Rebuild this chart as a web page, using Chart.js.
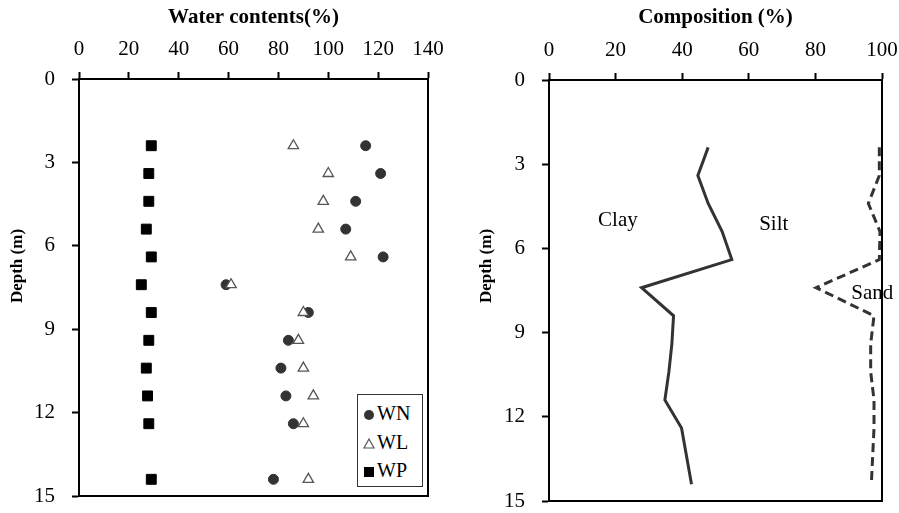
<!DOCTYPE html>
<html>
<head>
<meta charset="utf-8">
<script src="https://cdn.jsdelivr.net/npm/chart.js@4.4.1/dist/chart.umd.min.js"></script>
<style>
    body { margin: 0; background: #fff; }
    #wrap { position: relative; width: 899px; height: 513px; overflow: hidden; font-family: 'Liberation Serif', 'Times New Roman', serif; }
    #left { position: absolute; left: 0; top: 0; }
    #right { position: absolute; left: 450px; top: 0; }
    .legend { position: absolute; left: 357px; top: 394px; width: 64px; height: 91px; border: 1px solid #333; background: #fff; }
    .legend div { position: absolute; left: 5px; height: 20px; line-height: 20px; font-size: 20px; color: #000; white-space: nowrap; }
    .legend svg { vertical-align: -1px; margin-right: 2px; }
</style>
</head>
<body>
<div id="wrap">
    <canvas id="left" width="450" height="513"></canvas>
    <canvas id="right" width="449" height="513"></canvas>
    <div class="legend">
        <div style="top:8px"><svg width="12" height="12"><circle cx="6" cy="6" r="5" fill="#333"/></svg>WN</div>
        <div style="top:37px"><svg width="12" height="12"><polygon points="6,1 11,10 1,10" fill="#fff" stroke="#555" stroke-width="1.2"/></svg>WL</div>
        <div style="top:65px"><svg width="12" height="12"><rect x="1" y="1" width="10" height="10" fill="#000"/></svg>WP</div>
    </div>
</div>
<script>
// depth (m) of each sample
const depths = [2.4, 3.4, 4.4, 5.4, 6.4, 7.4, 8.4, 9.4, 10.4, 11.4, 12.4, 14.4];

// water contents (%)
const wn = [115, 121, 111, 107, 122, 59, 92, 84, 81, 83, 86, 78];
const wl = [86, 100, 98, 96, 109, 61, 90, 88, 90, 94, 90, 92];
const wp = [29, 28, 28, 27, 29, 25, 29, 28, 27, 27.5, 28, 29];

// composition (%): clay line and clay+silt line (rest is sand)
const clay = [47.8, 44.7, 47.8, 52.0, 54.9, 27.8, 37.4, 36.9, 36.0, 34.8, 39.8, 42.8];
const claySilt = [99.2, 99.2, 95.9, 99.4, 99.2, 80.2, 97.6, 96.6, 96.6, 97.6, 97.6, 96.8];

const depthTicks = [0, 3, 6, 9, 12, 15];

Chart.defaults.font.family = "'Liberation Serif', 'Times New Roman', serif";
Chart.defaults.color = '#000';

const toPoints = (xs) => xs.map((v, i) => ({ x: v, y: depths[i] }));

// box around plot + depth title + text labels
const extras = {
    id: 'extras',
    afterDraw(chart, args, opts) {
        const { ctx, chartArea, scales } = chart;
        ctx.save();
        ctx.strokeStyle = '#000';
        ctx.lineWidth = 2;
        ctx.strokeRect(chartArea.left, chartArea.top, chartArea.right - chartArea.left, chartArea.bottom - chartArea.top);

        ctx.fillStyle = '#000';
        ctx.textAlign = 'center';
        ctx.textBaseline = 'middle';
        if (opts.depthTitle) {
            ctx.save();
            ctx.translate(opts.depthTitle.x, opts.depthTitle.y);
            ctx.rotate(-Math.PI / 2);
            ctx.font = "bold 17px 'Liberation Serif', serif";
            ctx.fillText('Depth (m)', 0, 0);
            ctx.restore();
        }
        ctx.font = "21px 'Liberation Serif', serif";
        (opts.labels || []).forEach((l) => {
            ctx.fillText(l.text, scales.x.getPixelForValue(l.x), scales.y.getPixelForValue(l.y));
        });
        ctx.restore();
    }
};

const axisStyle = {
    grid: { drawOnChartArea: false, drawTicks: true, tickLength: 7, tickWidth: 2, tickColor: '#000', color: '#000' },
    border: { display: true, color: '#000', width: 2 },
};

const makeOptions = (xMax, xTitle, yWidth, xHeight, pad, depthTitle, labels) => ({
    responsive: false,
    animation: false,
    layout: { padding: pad },
    plugins: {
        legend: { display: false },
        tooltip: { enabled: false },
        extras: { depthTitle: depthTitle, labels: labels },
    },
    scales: {
        x: {
            type: 'linear',
            position: 'top',
            min: 0,
            max: xMax,
            ...axisStyle,
            ticks: { stepSize: 20, padding: 10, font: { size: 21 } },
            title: { display: true, text: xTitle, font: { size: 21, weight: 'bold' }, padding: { top: 5, bottom: 0 } },
            afterFit: (s) => { s.height = xHeight; s.paddingLeft = 0; s.paddingRight = 0; },
        },
        y: {
            type: 'linear',
            reverse: true,
            min: 0,
            max: 15,
            ...axisStyle,
            afterBuildTicks: (s) => { s.ticks = depthTicks.map((v) => ({ value: v })); },
            ticks: { padding: 17, font: { size: 21 } },
            afterFit: (s) => { s.width = yWidth; s.paddingTop = 0; s.paddingBottom = 0; },
        },
    },
});

new Chart(document.getElementById('left'), {
    type: 'scatter',
    data: {
        datasets: [
            {
                label: 'WN',
                data: toPoints(wn),
                pointStyle: 'circle',
                pointRadius: 5,
                backgroundColor: '#333',
                borderColor: '#333',
                order: 2,
            },
            {
                label: 'WL',
                data: toPoints(wl),
                pointStyle: 'triangle',
                pointRadius: 6,
                backgroundColor: '#fff',
                borderColor: '#555',
                borderWidth: 1.3,
                order: 1,
            },
            {
                label: 'WP',
                data: toPoints(wp),
                pointStyle: 'rect',
                pointRadius: 7,
                backgroundColor: '#000',
                borderColor: '#000',
                order: 3,
            },
        ],
    },
    options: makeOptions(140, 'Water contents(%)', 79, 79, { top: 0, left: 0, right: 22, bottom: 17 }, { x: 18, y: 266 }, []),
    plugins: [extras],
});

new Chart(document.getElementById('right'), {
    type: 'scatter',
    data: {
        datasets: [
            {
                label: 'Clay',
                data: toPoints(clay),
                showLine: true,
                borderColor: '#333',
                borderWidth: 3,
                pointRadius: 0,
            },
            {
                label: 'Silt',
                data: toPoints(claySilt),
                showLine: true,
                borderColor: '#333',
                borderWidth: 3,
                borderDash: [9, 5],
                pointRadius: 0,
            },
        ],
    },
    options: makeOptions(100, 'Composition (%)', 99, 80, { top: 0, left: 0, right: 17, bottom: 12 }, { x: 37, y: 266 }, [
        { text: 'Clay', x: 20.7, y: 5.0 },
        { text: 'Silt', x: 67.5, y: 5.15 },
        { text: 'Sand', x: 97.1, y: 7.6 },
    ]),
    plugins: [extras],
});
</script>
</body>
</html>
